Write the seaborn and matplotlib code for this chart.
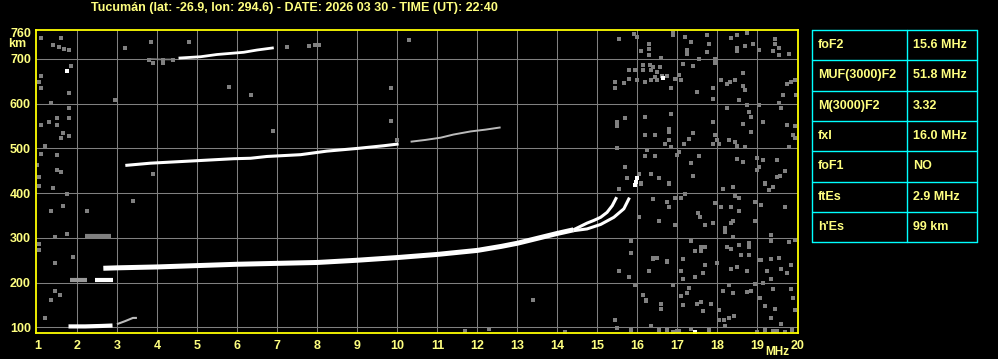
import matplotlib
matplotlib.use("Agg")
import matplotlib.pyplot as plt
import seaborn as sns
import pandas as pd

# ---------------- data ----------------
title = "Tucumán (lat: -26.9, lon: 294.6) - DATE: 2026 03 30 - TIME (UT): 22:40"

x_ticks = list(range(1, 21))
y_ticks = [100, 200, 300, 400, 500, 600, 700, 760]

# F2 trace (common part, then O and X branches)
f2_freq = [2.65, 3.0, 4.0, 5.0, 6.0, 7.0, 8.0, 9.0, 10.0, 11.0, 12.0, 12.6, 13.0, 13.5, 14.0, 14.4]
f2_h    = [232, 233, 235, 238, 241, 243, 245, 250, 256, 263, 272, 281, 288, 299, 310, 318]
o_freq = [14.4, 14.74, 14.91, 15.08, 15.24, 15.37, 15.48]
o_h    = [318, 333, 339, 346, 357, 372, 391]
x_freq = [14.4, 14.74, 15.08, 15.41, 15.66, 15.8]
x_h    = [316, 320, 330, 346, 365, 390]
x_tail_freq = [15.95, 15.99, 15.97]
x_tail_h    = [419, 433, 426]

# second hop F2
f2b_freq = [3.2, 3.83, 5.08, 5.91, 6.33, 6.74, 7.58, 8.24, 9.0, 9.66, 10.03]
f2b_h    = [462, 467, 473, 477, 478, 482, 486, 494, 500, 506, 510]
f2b_tail_freq = [10.33, 10.7, 11.08, 11.4, 11.83, 12.2, 12.58]
f2b_tail_h    = [515, 519, 524, 531, 538, 542, 547]

# third hop F2
f3_freq = [4.53, 5.08, 5.49, 6.16, 6.49, 6.91]
f3_h    = [702, 705, 710, 715, 720, 725]
f3_pre_freq = [3.83, 4.1, 4.39]
f3_pre_h    = [700, 699, 699]

# sporadic E and its multiples
es1_freq = [1.78, 2.2, 2.6, 2.88]
es1_h    = [102, 102, 103, 104]
es1_tail_freq = [2.99, 3.2, 3.39, 3.49]
es1_tail_h    = [107, 114, 121, 121]
es2a_freq = [1.82, 2.25]
es2a_h    = [205, 205]
es2b_freq = [2.45, 2.9]
es2b_h    = [205, 205]
es3_freq = [2.2, 2.83]
es3_h    = [304, 304]

# scattered gray noise echoes
noise_freq = [
    15.91, 15.53, 15.99, 16.3, 16.3, 16.1, 16.3, 16.6, 16.89, 16.89, 17.2, 17.34, 17.24, 17.24,
    17.74, 17.8, 17.74, 17.95, 17.95, 17.53, 18.34, 18.49, 18.74, 18.49, 18.48, 18.7, 18.89,
    19.03, 19.43, 19.43, 19.39, 19.55, 19.55, 19.79,
    16.14, 16.14, 16.31, 16.39, 16.56, 16.33, 16.49, 16.74, 16.62, 15.8, 15.95, 15.8, 15.66,
    15.45, 15.45, 15.99, 16.18, 16.35, 16.49, 16.45, 16.95, 17.03, 17.1, 17.14, 17.39, 16.84,
    17.49, 17.89, 17.89, 18.1, 18.24, 18.31, 18.45, 18.64, 18.64, 18.7, 18.55, 18.74, 18.24,
    19.74, 19.85, 19.95, 19.64, 19.97, 19.53, 19.05,
    15.49, 15.49, 15.7, 16.2, 16.2, 16.45, 16.84, 16.8, 16.8, 16.8, 16.7, 16.85, 17.3, 17.39,
    17.16, 17.89, 17.95, 17.99, 17.89, 18.03, 18.24, 18.3, 18.45, 18.49, 18.64, 18.78, 18.84,
    18.84, 18.7, 19.14, 19.6, 19.74, 19.95, 19.89, 19.95, 19.8,
    15.49, 16.24, 16.2, 16.45, 15.7, 16.03, 15.74, 16.1, 16.34, 16.55, 16.8, 16.99, 17.05,
    17.54, 17.35, 17.39, 18.49, 18.64, 18.99, 19.03, 19.14, 18.99, 19.49, 19.7, 19.49, 19.56, 19.18,
    15.53, 16.1, 16.03, 15.84, 15.84, 16.39, 16.74, 16.8, 16.8, 16.95, 17.09, 17.2, 16.55, 16.95,
    17.51, 17.56, 17.7, 17.89, 17.95, 18.14, 18.39, 18.45, 18.55, 18.1, 18.35, 18.55, 18.2, 18.2,
    18.35, 18.39, 18.39, 18.95, 19.1, 18.95, 19.3, 19.39, 19.2, 19.7, 19.35, 19.35, 19.8, 19.95,
    17.35, 17.45, 17.6, 17.59, 17.7, 18.24, 18.35, 18.55, 18.8, 18.8, 18.59, 18.8, 19.06, 19.35,
    19.55, 16.39, 16.49, 16.74, 17.14,
    15.55, 15.8, 15.95, 16.3, 16.39, 16.74, 17.1, 17.14, 17.45, 17.64, 17.7, 17.99, 16.88, 17.3,
    17.24, 17.1, 17.14, 17.49, 17.59, 17.85, 17.64, 16.14, 16.22, 16.22, 16.6, 16.6, 15.45, 15.49,
    15.84, 16.35, 16.55, 16.74, 16.89, 17.03, 17.33, 17.8, 18.03, 18.03, 18.16, 18.3, 18.41,
    18.2, 18.14, 18.28, 18.39, 18.34, 18.49, 18.74, 18.74, 18.85, 18.95, 19.14, 19.06, 19.2,
    19.43, 19.35, 19.59, 19.95, 19.89, 19.85, 19.39, 19.24, 19.35, 19.59, 19.74, 19.85, 19.35,
    19.08, 19.2, 19.39, 19.49, 19.7, 19.87, 18.99, 16.99,
    1.09, 1.6, 1.39, 1.53, 1.66, 1.8, 1.84, 1.09, 1.05, 1.09, 1.8, 1.35, 1.8, 1.49, 1.3, 1.1,
    1.49, 1.8, 1.64, 1.6, 1.8, 1.18, 1.49, 1.09, 1.0, 1.49, 1.6, 1.05, 1.05, 1.39, 1.74, 1.35,
    1.64, 2.24, 1.74, 1.45, 1.05, 1.03, 1.89, 1.45, 1.45, 1.56, 1.35, 1.2,
    3.2, 3.85, 4.8, 3.8, 3.89, 4.14, 4.14, 4.39, 7.24, 7.78, 7.95, 8.03, 5.8, 6.35, 2.95, 6.89,
    9.85, 9.85, 3.89, 3.39, 9.99, 10.3, 14.2, 12.3, 11.7, 13.4,
]
noise_h = [
    756, 744, 749, 734, 723, 717, 708, 702, 758, 753, 749, 739, 721, 712,
    753, 734, 716, 701, 690, 699, 748, 753, 757, 725, 717, 730, 734,
    721, 745, 734, 717, 725, 708, 712,
    686, 675, 687, 682, 682, 675, 671, 663, 663, 675, 675, 656, 647,
    649, 634, 652, 649, 652, 652, 660, 656, 665, 652, 688, 684, 634,
    626, 634, 611, 652, 645, 649, 652, 669, 640, 630, 608, 598, 591,
    645, 649, 652, 620, 620, 602, 598,
    558, 550, 567, 570, 531, 531, 576, 544, 536, 519, 509, 504, 521, 534,
    509, 558, 531, 519, 509, 509, 590, 519, 514, 506, 555, 582, 571,
    536, 504, 558, 590, 553, 550, 531, 524, 504,
    500, 497, 484, 484, 458, 443, 433, 423, 442, 433, 422, 486, 492,
    483, 467, 438, 477, 469, 479, 458, 475, 451, 473, 449, 436, 438, 423,
    409, 421, 347, 294, 266, 387, 381, 368, 421, 390, 389, 399, 337, 328,
    355, 347, 328, 333, 378, 409, 413, 393, 389, 368, 368, 359, 323, 314,
    333, 337, 303, 381, 373, 337, 407, 413, 421, 368, 307, 294, 290, 296,
    292, 270, 270, 279, 279, 279, 275, 285, 288, 279, 261, 261, 250, 253,
    256, 254, 256, 247, 253,
    226, 212, 194, 226, 252, 248, 226, 208, 212, 221, 239, 243, 194, 189,
    176, 170, 150, 152, 157, 152, 137, 172, 162, 159, 152, 142, 116, 98,
    94, 102, 94, 94, 89, 92, 96, 94, 139, 116, 116, 120, 125,
    102, 181, 194, 176, 230, 234, 226, 180, 181, 196, 198, 166, 148,
    142, 120, 107, 139, 166, 186, 186, 226, 208, 230, 221, 239, 252,
    250, 94, 92, 92, 90, 94, 90, 92,
    746, 748, 732, 726, 722, 721, 685, 663, 648, 634, 625, 602, 590, 567, 558, 553,
    553, 567, 535, 523, 527, 506, 486, 488, 462, 451, 447, 437, 417, 411, 398, 360,
    372, 360, 309, 302, 287, 272, 257, 244, 181, 173, 162, 121,
    725, 739, 739, 698, 692, 698, 692, 698, 726, 730, 732, 732, 637, 620, 609, 540,
    635, 562, 442, 382, 519, 742, 90, 96, 92, 160,
]

white_freq = [16.64, 1.74, 17.45]
white_h    = [658, 674, 89]

table_labels = ["foF2", "MUF(3000)F2", "M(3000)F2", "fxI", "foF1", "ftEs", "h'Es"]
table_values = ["15.6 MHz", "51.8 MHz", "3.32", "16.0 MHz", "NO", "2.9 MHz", "99 km"]

# ---------------- style ----------------
sns.set_theme(style="dark")
plt.rcParams["font.family"] = ["Liberation Sans", "DejaVu Sans"]
plt.rcParams["font.weight"] = "bold"

BG = "black"
TXT = "#FFFF80"
BORDER = "#FFFF00"
GRID = "#808080"
NOISE = "#808080"
CYAN = "#00FFFF"

W, H = 998, 359
fig = plt.figure(figsize=(W / 100, H / 100), dpi=100, facecolor=BG)

ax = fig.add_axes([35.7 / W, 1 - 333.3 / H, 761.8 / W, 303.3 / H])
ax.set_facecolor(BG)

# grid
for f in range(2, 20):
    ax.axvline(f, color=GRID, lw=0.75, zorder=1)
for hh in range(100, 701, 100):
    ax.axhline(hh, color=GRID, lw=0.75, zorder=1)

# noise
sns.scatterplot(x=noise_freq, y=noise_h, ax=ax, color=NOISE, marker="s", s=5.5,
                linewidth=0, zorder=2)
sns.scatterplot(x=white_freq, y=white_h, ax=ax, color="white", marker="s", s=6,
                linewidth=0, zorder=3)

def trace(fx, hy, lw, color="white", z=4):
    df = pd.DataFrame({"f": fx, "h": hy})
    sns.lineplot(data=df, x="f", y="h", ax=ax, color=color, lw=lw, sort=False,
                 estimator=None, zorder=z, solid_capstyle="butt")

trace(f2_freq, f2_h, 3.6)
trace(o_freq, o_h, 2.2)
trace(x_freq, x_h, 2.2)
sns.scatterplot(x=x_tail_freq, y=x_tail_h, ax=ax, color="white", marker="s", s=6,
                linewidth=0, zorder=4)
trace(f2b_freq, f2b_h, 2.2)
trace(f2b_tail_freq, f2b_tail_h, 1.4, color="#bbbbbb")
trace(f3_freq, f3_h, 2.0)
trace(f3_pre_freq, f3_pre_h, 1.2, color=NOISE)
trace(es1_freq, es1_h, 3.0)
trace(es1_tail_freq, es1_tail_h, 1.5, color="#bbbbbb")
trace(es2a_freq, es2a_h, 3.0, color="#999999")
trace(es2b_freq, es2b_h, 3.0)
trace(es3_freq, es3_h, 3.0, color=NOISE)

ax.set_xlim(0.96, 20.0)
ax.set_ylim(86.6, 764.8)
ax.set_xticks(x_ticks)
ax.set_xticklabels([str(t) for t in x_ticks])
ax.set_yticks(y_ticks)
ax.set_yticklabels([str(t) for t in y_ticks])
ax.tick_params(axis="both", length=0, colors=TXT, labelsize=9)
ax.tick_params(axis="x", pad=5)
ax.tick_params(axis="y", pad=3.4)
for lab in ax.get_xticklabels() + ax.get_yticklabels():
    lab.set_fontweight("bold")
    lab.set_color(TXT)
ax.grid(False)
ax.set_xlabel("")
ax.set_ylabel("")
for sp in ax.spines.values():
    sp.set_visible(True)
    sp.set_color(BORDER)
    sp.set_linewidth(1.3)
    sp.set_zorder(6)

fig.text(8 / W, 1 - 44 / H, "km", color=TXT, fontsize=9, fontweight="bold",
         ha="left", va="center")
fig.text(765 / W, 1 - 352 / H, "MHz", color=TXT, fontsize=8.5, fontweight="bold",
         ha="left", va="center")
fig.text(294 / W, 1 - 8 / H, title, color=TXT, fontsize=9, fontweight="bold",
         ha="center", va="center")

# parameter table
tx0, ty0, tw, th = 812.3, 30.0, 165.0, 212.3
tax = fig.add_axes([tx0 / W, 1 - (ty0 + th) / H, tw / W, th / H])
tax.set_facecolor(BG)
tax.set_xlim(0, tw)
tax.set_ylim(th, 0)
tax.axis("off")
n = len(table_labels)
rh = th / n
for i in range(n + 1):
    tax.plot([0, tw], [i * rh, i * rh], color=CYAN, lw=1.0, clip_on=False)
for xv in (0, 95, tw):
    tax.plot([xv, xv], [0, th], color=CYAN, lw=1.0, clip_on=False)
for i, (lab, val) in enumerate(zip(table_labels, table_values)):
    yc = (i + 0.5) * rh
    tax.text(5.5, yc, lab, color=TXT, fontsize=9, fontweight="bold", ha="left", va="center")
    tax.text(100.5, yc, val, color=TXT, fontsize=9, fontweight="bold", ha="left", va="center")

fig.savefig("out.png", dpi=100, facecolor=BG)
